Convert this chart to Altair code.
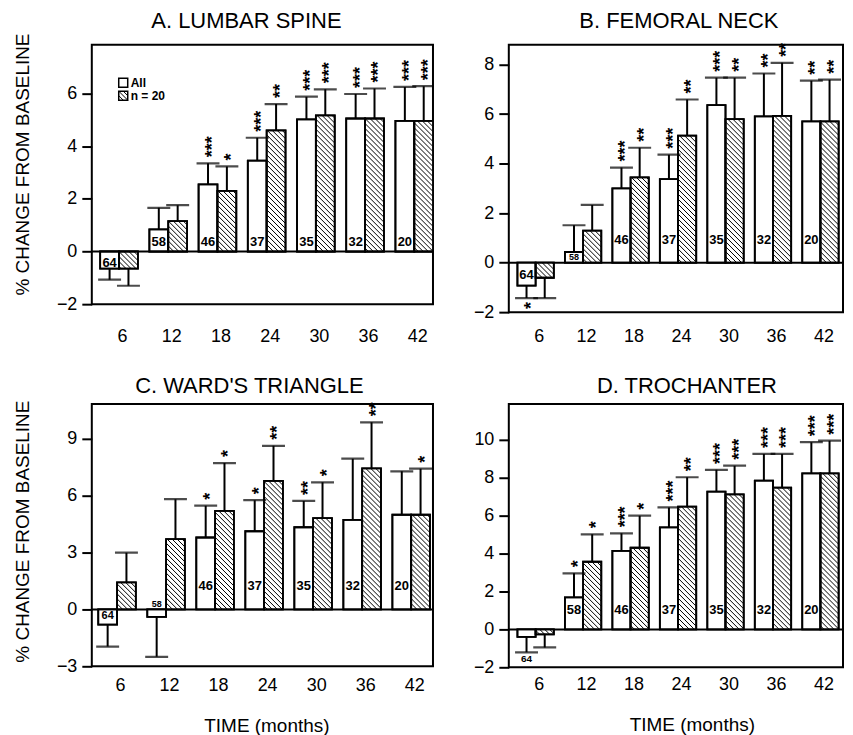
import math
import altair as alt
import pandas as pd

# ---------------- data ----------------
MONTHS = [6, 12, 18, 24, 30, 36, 42]
N_AT_VISIT = ["64", "58", "46", "37", "35", "32", "20"]
SERIES = ["All", "n = 20"]

# A. Lumbar spine
A_ALL = [-0.65, 0.84, 2.55, 3.45, 5.02, 5.05, 4.96]
A_ALL_ERR = [-1.07, 1.66, 3.35, 4.32, 5.88, 5.98, 6.25]
A_N20 = [-0.65, 1.15, 2.30, 4.60, 5.17, 5.05, 4.96]
A_N20_ERR = [-1.30, 1.76, 3.23, 5.60, 6.16, 6.19, 6.28]
A_ALL_SIG = ["", "", "***", "***", "***", "***", "***"]
A_N20_SIG = ["", "", "*", "**", "***", "***", "***"]

# B. Femoral neck
B_ALL = [-0.93, 0.43, 3.00, 3.37, 6.36, 5.91, 5.71]
B_ALL_ERR = [-1.43, 1.51, 3.84, 4.36, 7.47, 7.64, 7.35]
B_N20 = [-0.61, 1.29, 3.44, 5.13, 5.80, 5.93, 5.71]
B_N20_ERR = [-1.43, 2.33, 4.64, 6.59, 7.47, 8.07, 7.39]
B_ALL_SIG = ["*", "", "***", "***", "***", "**", "**"]
B_N20_SIG = ["", "", "**", "**", "**", "**", "**"]

# C. Ward's triangle
C_ALL = [-0.80, -0.39, 3.80, 4.13, 4.34, 4.73, 5.00]
C_ALL_ERR = [-1.96, -2.50, 5.48, 5.77, 5.73, 7.96, 7.29]
C_N20 = [1.43, 3.71, 5.20, 6.79, 4.82, 7.45, 5.00]
C_N20_ERR = [3.00, 5.82, 7.73, 8.64, 6.71, 9.88, 7.43]
C_ALL_SIG = ["", "", "*", "*", "**", "", ""]
C_N20_SIG = ["", "", "*", "**", "*", "**", "*"]

# D. Trochanter
D_ALL = [-0.39, 1.69, 4.14, 5.39, 7.27, 7.85, 8.24]
D_ALL_ERR = [-1.21, 2.96, 5.07, 6.44, 8.42, 9.26, 9.88]
D_N20 = [-0.26, 3.57, 4.31, 6.48, 7.13, 7.48, 8.24]
D_N20_ERR = [-0.95, 5.02, 6.00, 8.03, 8.64, 9.26, 9.96]
D_ALL_SIG = ["", "*", "***", "***", "***", "***", "***"]
D_N20_SIG = ["", "*", "*", "**", "***", "***", "***"]

A_YTICKS = [-2, 0, 2, 4, 6]
B_YTICKS = [-2, 0, 2, 4, 6, 8]
C_YTICKS = [-3, 0, 3, 6, 9]
D_YTICKS = [-2, 0, 2, 4, 6, 8, 10]

Y_TITLE = "% CHANGE FROM BASELINE"
X_TITLE = "TIME (months)"

PANELS = [
    dict(key="A", title="A. LUMBAR SPINE", all=A_ALL, all_err=A_ALL_ERR, n20=A_N20,
         n20_err=A_N20_ERR, all_sig=A_ALL_SIG, n20_sig=A_N20_SIG, yticks=A_YTICKS),
    dict(key="B", title="B. FEMORAL NECK", all=B_ALL, all_err=B_ALL_ERR, n20=B_N20,
         n20_err=B_N20_ERR, all_sig=B_ALL_SIG, n20_sig=B_N20_SIG, yticks=B_YTICKS),
    dict(key="C", title="C. WARD'S TRIANGLE", all=C_ALL, all_err=C_ALL_ERR, n20=C_N20,
         n20_err=C_N20_ERR, all_sig=C_ALL_SIG, n20_sig=C_N20_SIG, yticks=C_YTICKS),
    dict(key="D", title="D. TROCHANTER", all=D_ALL, all_err=D_ALL_ERR, n20=D_N20,
         n20_err=D_N20_ERR, all_sig=D_ALL_SIG, n20_sig=D_N20_SIG, yticks=D_YTICKS),
]

# ---------------- styling / layout ----------------
FONT = "Liberation Sans"
BAR_W = 2.3          # bar width in months
HATCH_STEP = 5.0     # hatch spacing in px
STAR_SIZE = 18

STYLE = {
    "A": dict(W=342, H=260, xdom=[2.68, 44.28], ydom=[-2, 7.85], title_dx=-16, title_y=-16.5,
              xlabpad=23, left=True, bottom=False, ytitle_y=120,
              lab_default=(-10, 13), lab_special={6: (12, 13)}, legend=True),
    "B": dict(W=335, H=268, xdom=[2.61, 44.85], ydom=[-2, 8.8], title_dx=3, title_y=-16.5,
              xlabpad=15, left=False, bottom=False,
              lab_default=(-23, 13), lab_special={6: (12, 13), 12: (-6, 9)}, legend=False),
    "C": dict(W=342, H=263, xdom=[2.91, 44.67], ydom=[-3, 10.85], title_dx=-13, title_y=-11,
              xlabpad=10, left=True, bottom=True, ytitle_y=128, xtitle_dx=4,
              lab_default=(-24, 13), lab_special={6: (7, 11), 12: (-5, 9)}, legend=False),
    "D": dict(W=335, H=264, xdom=[2.61, 44.85], ydom=[-2, 11.9], title_dx=11, title_y=-11,
              xlabpad=8, left=False, bottom=True, xtitle_dx=16,
              lab_default=(-19, 13), lab_special={6: (30, 10)}, legend=False),
}


def hatch_rows(x0, x1, v, xmin, xmax, ymax, ppm, ppu, step=HATCH_STEP):
    xa, xb = max(x0, xmin), min(x1, xmax)
    if xb <= xa:
        return []
    X0, X1 = (xa - xmin) * ppm, (xb - xmin) * ppm
    ytop, ybot = max(v, 0.0), min(v, 0.0)
    Yt, Yb = (ymax - ytop) * ppu, (ymax - ybot) * ppu
    out = []
    k = math.ceil((Yt - X1) / step)
    while k * step <= Yb - X0:
        c = k * step
        xs = max(X0, Yt - c)
        xe = min(X1, Yb - c)
        if xe - xs > 0.3:
            out.append(dict(x=xmin + xs / ppm, x2=xmin + xe / ppm,
                            y=ymax - (xs + c) / ppu, y2=ymax - (xe + c) / ppu))
        k += 1
    return out


def panel_chart(p):
    st = STYLE[p["key"]]
    xmin, xmax = st["xdom"]
    ymin, ymax = st["ydom"]
    ppm = st["W"] / (xmax - xmin)
    ppu = st["H"] / (ymax - ymin)

    rows = []
    for i, m in enumerate(MONTHS):
        for s in SERIES:
            if s == "All":
                v, e, sig = p["all"][i], p["all_err"][i], p["all_sig"][i]
                x0 = m - BAR_W
            else:
                v, e, sig = p["n20"][i], p["n20_err"][i], p["n20_sig"][i]
                x0 = m
            rows.append(dict(series=s, month=m, x=x0, x2=x0 + BAR_W, xc=x0 + BAR_W / 2,
                             y=v, y2=0.0, err=e, stars=sig))
    bars = pd.DataFrame(rows)

    hrows = []
    for r in rows:
        if r["series"] == "n = 20":
            hrows += hatch_rows(r["x"], r["x2"], r["y"], xmin, xmax, ymax, ppm, ppu)
    hatch = pd.DataFrame(hrows)

    xscale = alt.Scale(domain=[xmin, xmax], nice=False, zero=False)
    yscale = alt.Scale(domain=[ymin, ymax], nice=False, zero=False)
    if st["bottom"]:
        xaxis = alt.Axis(values=MONTHS, format="d", ticks=False, domain=False, grid=False,
                         labelPadding=st["xlabpad"], labelOffset=3, labelFontSize=18,
                         labelFlush=False, title=X_TITLE, titleFontSize=19,
                         titleFontWeight="normal", titlePadding=22,
                         titleX=st["W"] / 2 + st["xtitle_dx"])
    else:
        xaxis = alt.Axis(values=MONTHS, format="d", ticks=False, domain=False, grid=False,
                         labelPadding=st["xlabpad"], labelOffset=3, labelFontSize=18,
                         labelFlush=False, title=None)
    yaxis = alt.Axis(values=p["yticks"], format="d", tickSize=10, tickWidth=2,
                     domain=False, grid=False, labelPadding=5, labelFontSize=18,
                     labelFlush=False, title=None)

    def X(f):
        return alt.X(f"{f}:Q", scale=xscale, axis=xaxis)

    def Y(f):
        return alt.Y(f"{f}:Q", scale=yscale, axis=yaxis)

    one = pd.DataFrame({"k": [0]})
    layers = []
    layers.append(alt.Chart(pd.DataFrame({"y": [0.0]})).mark_rule(
        color="black", strokeWidth=2).encode(y=Y("y")))
    layers.append(alt.Chart(bars).mark_bar(fill="white", stroke="black", strokeWidth=1.8,
                                           clip=True).encode(
        x=X("x"), x2="x2", y=Y("y"), y2="y2"))
    if len(hatch):
        layers.append(alt.Chart(hatch).mark_rule(color="black", strokeWidth=1, clip=True).encode(
            x=X("x"), x2="x2", y=Y("y"), y2="y2"))
    layers.append(alt.Chart(bars).mark_bar(fillOpacity=0, stroke="black", strokeWidth=1.8,
                                           clip=True).encode(
        x=X("x"), x2="x2", y=Y("y"), y2="y2"))
    layers.append(alt.Chart(bars).mark_rule(color="black", strokeWidth=2, clip=True).encode(
        x=X("xc"), y=Y("y"), y2="err"))
    layers.append(alt.Chart(bars).mark_tick(orient="horizontal", size=23, thickness=2.2,
                                            color="black", clip=True).encode(
        x=X("xc"), y=Y("err")))

    # significance stars, stacked vertically (rotated text)
    pos = bars[(bars["stars"] != "") & (bars["err"] > 0)]
    neg = bars[(bars["stars"] != "") & (bars["err"] < 0)]
    if len(pos):
        layers.append(alt.Chart(pos).mark_text(
            angle=270, align="left", baseline="middle", fontSize=STAR_SIZE, fontWeight="bold",
            dx=6, dy=5, color="black").encode(
            x=X("xc"), y=Y("err"), text="stars:N"))
    if len(neg):
        layers.append(alt.Chart(neg).mark_text(
            angle=270, align="right", baseline="middle", fontSize=STAR_SIZE, fontWeight="bold",
            dx=-4, dy=5, color="black").encode(
            x=X("xc"), y=Y("err"), text="stars:N"))

    # n-at-visit labels inside the "All" bars
    groups = {}
    for i, m in enumerate(MONTHS):
        sty = st["lab_special"].get(m, st["lab_default"])
        groups.setdefault(sty, []).append(dict(x=m - BAR_W / 2, y=0.0, label=N_AT_VISIT[i]))
    for (dy, size), recs in groups.items():
        layers.append(alt.Chart(pd.DataFrame(recs)).mark_text(
            baseline="middle", align="center", fontSize=size, fontWeight="bold",
            dy=dy, color="black").encode(x=X("x"), y=Y("y"), text="label:N"))

    # panel title
    layers.append(alt.Chart(one).mark_text(
        text=p["title"], fontSize=22, align="center", baseline="alphabetic",
        color="black").encode(x=alt.value(st["W"] / 2 + st["title_dx"]),
                              y=alt.value(st["title_y"])))

    # vertical axis title (left column only)
    if st["left"]:
        layers.append(alt.Chart(one).mark_text(
            text=Y_TITLE, fontSize=19, angle=270, align="center", baseline="alphabetic",
            color="black").encode(x=alt.value(-63), y=alt.value(st["ytitle_y"])))

    if st["legend"]:
        layers.append(alt.Chart(one).mark_rect(fill="white", stroke="black", strokeWidth=1.5).encode(
            x=alt.value(27), x2=alt.value(36), y=alt.value(33.5), y2=alt.value(42.5)))
        layers.append(alt.Chart(one).mark_rect(fill="white", stroke="black", strokeWidth=1.5).encode(
            x=alt.value(27), x2=alt.value(36), y=alt.value(46.5), y2=alt.value(55.5)))
        for (a, b, c, d) in [(27, 46.5, 36, 55.5), (27, 51, 31.5, 55.5), (31.5, 46.5, 36, 51)]:
            layers.append(alt.Chart(one).mark_rule(color="black", strokeWidth=1).encode(
                x=alt.value(a), y=alt.value(b), x2=alt.value(c), y2=alt.value(d)))
        layers.append(alt.Chart(one).mark_text(text="All", align="left", baseline="alphabetic",
                                               fontSize=12, fontWeight="bold", color="black").encode(
            x=alt.value(39), y=alt.value(42)))
        layers.append(alt.Chart(one).mark_text(text="n = 20", align="left", baseline="alphabetic",
                                               fontSize=12, fontWeight="bold", color="black").encode(
            x=alt.value(39), y=alt.value(55.5)))

    return alt.layer(*layers).properties(width=st["W"], height=st["H"])


charts = [panel_chart(p) for p in PANELS]
chart = alt.concat(*charts, columns=2, spacing={"row": 92, "column": 76},
                   bounds="flush").properties(
    padding={"left": 4, "top": 0, "right": 0, "bottom": 0}
).configure(font=FONT).configure_view(stroke="black", strokeWidth=2).configure_axis(
    labelColor="black", titleColor="black", tickColor="black", labelFont=FONT, titleFont=FONT
)

chart.save("out.html", embed_options={"renderer": "svg", "actions": False})
